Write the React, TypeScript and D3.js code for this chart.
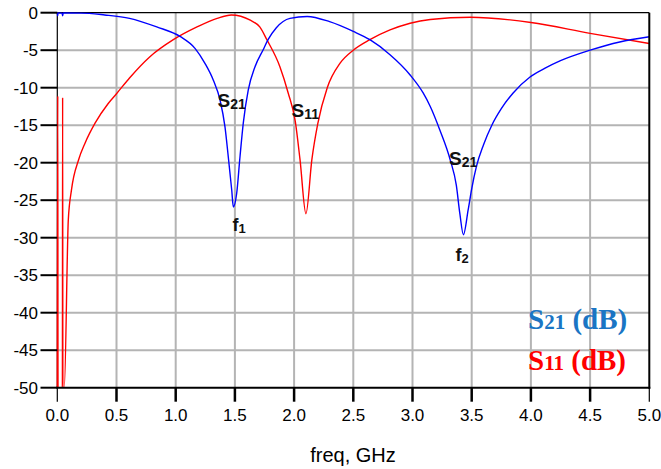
import React from 'react';
import * as d3 from 'd3';

// frequency points (GHz) and magnitudes (dB)
const s21Freq = [0, 0.003, 0.006, 0.04, 0.045, 0.05, 0.2, 0.4, 0.61, 0.84, 1.04, 1.163, 1.247, 1.318, 1.374, 1.416, 1.444, 1.473, 1.487, 1.515, 1.543, 1.571, 1.613, 1.67, 1.74, 1.78, 1.85, 1.965, 2.11, 2.3, 2.5, 2.64, 2.81, 2.98, 3.09, 3.15, 3.23, 3.32, 3.37, 3.4, 3.43, 3.47, 3.5, 3.54, 3.6, 3.67, 3.75, 3.85, 3.99, 4.12, 4.25, 4.5, 4.75, 5.0];
const s21Db = [0, -0.4, -0.05, -0.05, -0.4, -0.05, -0.05, -0.3, -0.75, -1.9, -3.2, -4.75, -6.75, -9.0, -11.6, -15.2, -19.2, -23.6, -25.9, -24.1, -19.2, -14.7, -10.3, -7.2, -4.9, -3.6, -2.0, -0.75, -0.5, -1.2, -2.5, -3.6, -5.6, -8.3, -10.7, -12.5, -15.6, -19.7, -23.0, -26.8, -29.6, -26.3, -23.5, -20.5, -17.6, -15.0, -12.8, -10.7, -8.6, -7.4, -6.4, -5.0, -3.9, -3.2];

const s11Freq = [0, 0.004, 0.006, 0.043, 0.045, 0.047, 0.059, 0.093, 0.12, 0.18, 0.234, 0.32, 0.43, 0.5, 0.61, 0.78, 0.98, 1.18, 1.35, 1.47, 1.63, 1.71, 1.77, 1.88, 1.95, 2.01, 2.05, 2.1, 2.15, 2.2, 2.28, 2.39, 2.5, 2.64, 2.81, 2.98, 3.15, 3.49, 4.0, 4.5, 5.0];
const s11Db = [-50, -11.1, -50, -50, -11.3, -50, -50, -27.6, -23.6, -19.6, -17.4, -14.7, -12.1, -10.8, -8.7, -5.9, -3.6, -1.9, -0.75, -0.3, -1.0, -1.9, -3.6, -7.2, -10.7, -14.5, -19.6, -26.8, -19.6, -14.8, -10.0, -6.7, -5.0, -3.6, -2.3, -1.4, -0.9, -0.6, -1.3, -2.75, -4.1];

const xTicks = [0, 0.5, 1, 1.5, 2, 2.5, 3, 3.5, 4, 4.5, 5];
const yTicks = [0, -5, -10, -15, -20, -25, -30, -35, -40, -45, -50];

const W = 661;
const H = 469;
const left = 57.3;
const right = 649.3;
const top = 12.7;
const bottom = 387.7;

export default function App() {
  const x = d3.scaleLinear().domain([0, 5]).range([left, right]);
  const y = d3.scaleLinear().domain([0, -50]).range([top, bottom]);

  const line = d3
    .line<[number, number]>()
    .x((d) => x(d[0]))
    .y((d) => y(d[1]))
    .curve(d3.curveMonotoneX);

  const s21 = s21Freq.map((f, i) => [f, s21Db[i]] as [number, number]);
  const s11 = s11Freq.map((f, i) => [f, s11Db[i]] as [number, number]);

  const sans = 'Liberation Sans, Arial, sans-serif';
  const serif = 'Liberation Serif, Times New Roman, serif';

  return (
    <svg width={W} height={H} style={{ position: 'absolute', left: 0, top: 0, background: '#fff' }}>
      <defs>
        <clipPath id="plot">
          <rect x={left - 1.5} y={top - 1} width={right - left + 1.5} height={bottom - top + 1} />
        </clipPath>
      </defs>

      {/* grid */}
      {xTicks.slice(1, -1).map((t) => (
        <line key={'gx' + t} x1={x(t)} x2={x(t)} y1={top} y2={bottom} stroke="#b4b4b4" strokeWidth={2} />
      ))}
      {yTicks.slice(1, -1).map((t) => (
        <line key={'gy' + t} x1={left} x2={right} y1={y(t)} y2={y(t)} stroke="#b4b4b4" strokeWidth={2} />
      ))}

      {/* frame (left/top under the curves) */}
      <line x1={left} x2={right} y1={top} y2={top} stroke="#000" strokeWidth={1.2} />
      <line x1={left} x2={left} y1={top} y2={bottom} stroke="#000" strokeWidth={1.2} />

      {/* curves */}
      <g clipPath="url(#plot)" fill="none">
        <path d={line(s11) || ''} stroke="#ff0000" strokeWidth={1.4} />
        <path d={line(s21) || ''} stroke="#0000ff" strokeWidth={1.4} />
      </g>

      <line x1={right} x2={right} y1={top} y2={bottom + 1} stroke="#000" strokeWidth={2} />
      <line x1={left - 1} x2={right + 1} y1={bottom} y2={bottom} stroke="#000" strokeWidth={2} />

      {/* y axis ticks */}
      {yTicks.map((t) => (
        <g key={'y' + t}>
          <line x1={40.5} x2={left} y1={y(t)} y2={y(t)} stroke="#000" strokeWidth={2} />
          <text x={38} y={y(t)} dy="0.36em" textAnchor="end" fontFamily={sans} fontSize={17}>
            {t}
          </text>
        </g>
      ))}

      {/* x axis ticks */}
      {xTicks.map((t, i) => (
        <g key={'x' + t}>
          <line
            x1={x(t)}
            x2={x(t)}
            y1={bottom}
            y2={bottom + 14}
            stroke="#000"
            strokeWidth={i === 0 || i === xTicks.length - 1 ? 1.2 : 2.5}
          />
          <text x={x(t)} y={420.5} textAnchor="middle" fontFamily={sans} fontSize={17}>
            {t.toFixed(1)}
          </text>
        </g>
      ))}

      <text x={353} y={461.5} textAnchor="middle" fontFamily={sans} fontSize={20}>
        freq, GHz
      </text>

      {/* annotations */}
      <g fontFamily={sans} fontWeight="bold" fill="#111">
        <text x={217.5} y={107} fontSize={19}>
          S<tspan fontSize={14} dy={2}>21</tspan>
        </text>
        <text x={291.5} y={117} fontSize={19}>
          S<tspan fontSize={14} dy={2}>11</tspan>
        </text>
        <text x={449} y={165} fontSize={19}>
          S<tspan fontSize={14} dy={2}>21</tspan>
        </text>
        <text x={232.5} y={231} fontSize={18}>
          f<tspan fontSize={13} dy={2}>1</tspan>
        </text>
        <text x={455.5} y={261} fontSize={18}>
          f<tspan fontSize={13} dy={2}>2</tspan>
        </text>
      </g>

      {/* legend */}
      <g fontFamily={serif} fontWeight="bold">
        <text x={528} y={329} fontSize={29} fill="#1a75c4">
          S<tspan fontSize={21}>21</tspan> (dB)
        </text>
        <text x={528} y={370} fontSize={29} fill="#ff0000">
          S<tspan fontSize={21}>11</tspan> (dB)
        </text>
      </g>
    </svg>
  );
}
